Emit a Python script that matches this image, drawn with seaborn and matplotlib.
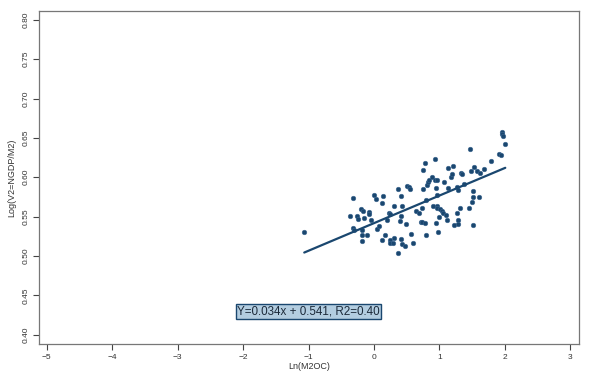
import numpy as np
import pandas as pd
import seaborn as sns
import matplotlib
matplotlib.use('Agg')
import matplotlib.pyplot as plt

# points
ln_m2oc = [
    -1.065, -0.367, -0.316, -0.326, -0.306, -0.255, -0.245, -0.199, -0.163, -0.153,
    -0.183, -0.178, -0.189, -0.102, -0.076, -0.071, -0.046, 0.005, 0.025, 0.041,
    0.076, 0.122, 0.143, 0.117, 0.173, 0.194, 0.224, 0.245, 0.240, 0.245,
    0.285, 0.311, 0.301, 0.362, 0.372, 0.398, 0.418, 0.423, 0.418, 0.413,
    0.428, 0.474, 0.489, 0.499, 0.530, 0.550, 0.566, 0.591, 0.647, 0.688,
    0.714, 0.729, 0.739, 0.744, 0.754, 0.780, 0.775, 0.790, 0.805, 0.821,
    0.841, 0.800, 0.882, 0.897, 0.933, 0.938, 0.948, 0.958, 0.968, 0.958,
    0.968, 0.989, 1.009, 1.035, 1.050, 1.075, 1.101, 1.111, 0.948, 0.973,
    1.126, 1.126, 1.182, 1.193, 1.213, 1.218, 1.264, 1.274, 1.279, 1.290,
    1.290, 1.315, 1.330, 1.340, 1.371, 1.453, 1.468, 1.488, 1.498, 1.509,
    1.509, 1.519, 1.529, 1.570, 1.600, 1.616, 1.677, 1.794, 1.916, 1.942,
    1.957, 1.962, 1.967, 2.008,
]
log_v2 = [
    0.531, 0.551, 0.573, 0.535, 0.533, 0.551, 0.547, 0.559, 0.557, 0.548,
    0.533, 0.526, 0.519, 0.526, 0.556, 0.553, 0.546, 0.577, 0.572, 0.534,
    0.538, 0.567, 0.576, 0.520, 0.527, 0.546, 0.554, 0.553, 0.520, 0.516,
    0.516, 0.523, 0.563, 0.585, 0.504, 0.545, 0.551, 0.563, 0.576, 0.521,
    0.515, 0.5125, 0.540, 0.589, 0.588, 0.585, 0.528, 0.516, 0.557, 0.555,
    0.543, 0.543, 0.561, 0.585, 0.609, 0.618, 0.542, 0.571, 0.590, 0.594,
    0.597, 0.527, 0.600, 0.563, 0.623, 0.596, 0.586, 0.578, 0.597, 0.563,
    0.561, 0.550, 0.559, 0.557, 0.554, 0.594, 0.552, 0.546, 0.542, 0.530,
    0.612, 0.586, 0.600, 0.604, 0.614, 0.539, 0.588, 0.554, 0.584, 0.546,
    0.541, 0.561, 0.606, 0.604, 0.592, 0.561, 0.636, 0.608, 0.569, 0.575,
    0.539, 0.583, 0.613, 0.608, 0.575, 0.606, 0.610, 0.621, 0.630, 0.628,
    0.658, 0.655, 0.653, 0.642,
]
x_ticks = [-5, -4, -3, -2, -1, 0, 1, 2, 3]
y_ticks = [0.40, 0.45, 0.50, 0.55, 0.60, 0.65, 0.70, 0.75, 0.80]
fit_label = 'Y=0.034x + 0.541, R2=0.40'

navy = '#1a476f'
txt = '#333333'

df = pd.DataFrame({'Ln(M2OC)': ln_m2oc, 'Log(V2=NGDP/M2)': log_v2})

sns.set_style('white')
plt.rcParams['font.family'] = ['Liberation Sans', 'DejaVu Sans']

fig = plt.figure(figsize=(6, 3.76), dpi=100)
ax = fig.add_axes([0.065, 0.085, 0.9, 0.886])

sns.regplot(data=df, x='Ln(M2OC)', y='Log(V2=NGDP/M2)', ax=ax, ci=None,
    truncate=True, color=navy,
    scatter_kws=dict(s=11, edgecolor='#3d6690', linewidths=0.4, alpha=1),
    line_kws=dict(linewidth=1.6, color=navy))

ax.set_xlim(-5.12, 3.135)
ax.set_ylim(0.388, 0.8114)
ax.set_xticks(x_ticks)
ax.set_xticklabels([str(v).replace('-', '\u2212') for v in x_ticks])
ax.set_yticks(y_ticks)
ax.set_yticklabels(['%.2f' % v for v in y_ticks], rotation=90, va='center')
ax.tick_params(axis='both', direction='out', length=4, width=0.8,
    colors='#444444', labelsize=6, labelcolor=txt, pad=3)
ax.xaxis.set_ticks_position('bottom')
ax.yaxis.set_ticks_position('left')
ax.set_xlabel('Ln(M2OC)', fontsize=6.5, color=txt, labelpad=1)
ax.set_ylabel('Log(V2=NGDP/M2)', fontsize=6.5, color=txt, labelpad=4)
for side in ax.spines.values():
    side.set_color('#777777')
    side.set_linewidth(0.9)
    side.set_visible(True)

ax.text(-1.0, 0.4298, fit_label, fontsize=8.4, color='#1c2a3a',
    ha='center', va='center',
    bbox=dict(boxstyle='square,pad=0.12', facecolor='#b3cde0',
        edgecolor=navy, linewidth=1.0))

fig.savefig('out.png', dpi=100)
